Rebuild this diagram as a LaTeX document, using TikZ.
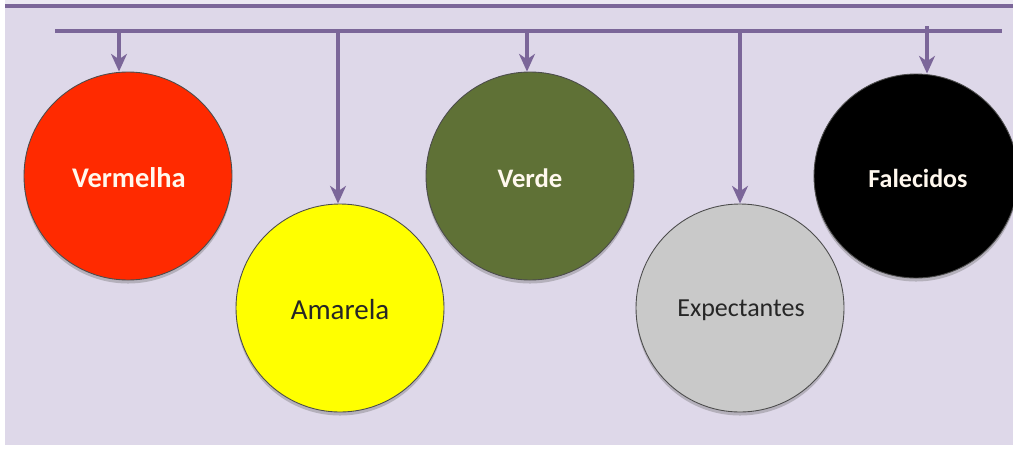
\documentclass[tikz,border=0pt]{standalone}
\usepackage{fontspec}
\setmainfont{Carlito}
\usetikzlibrary{arrows.meta,shadows}
\definecolor{bgpurple}{HTML}{DED8E9}
\definecolor{linepurple}{HTML}{7B6699}
\definecolor{cred}{HTML}{FF2A00}
\definecolor{cyellow}{HTML}{FFFF00}
\definecolor{cgreen}{HTML}{5F7136}
\definecolor{cgrey}{HTML}{C9C9C9}
\definecolor{ctext}{HTML}{FFF8EE}
\begin{document}
\begin{tikzpicture}[x=0.02cm,y=-0.02cm,
  link/.style={draw=linepurple,line width=1.8pt,-{Stealth[length=10pt,width=9pt,inset=3pt]}},
  bar/.style={draw=linepurple,line width=1.8pt},
  ball/.style={circle,minimum size=208*0.02cm,inner sep=0pt,draw=black!70,line width=0.5pt,
    drop shadow={shadow xshift=0pt,shadow yshift=-2pt,opacity=0.35,fill=black!60}}]
  % canvas
  \useasboundingbox (0,0) rectangle (1013,450);
  \fill[white] (0,0) rectangle (1013,450);
  \fill[bgpurple] (5,0) rectangle (1013,445);
  \fill[bgpurple!60!white] (5,0) rectangle (1013,5);
  \draw[linepurple,line width=2.2pt] (5,6) -- (1013,6);

  % hanging bar
  \coordinate (barL) at (55,31);
  \coordinate (barR) at (1002,31);
  \draw[bar] (barL) -- (barR);

  \begin{scope}
    \clip (0,0) rectangle (1013,450);
    \node[ball,fill=cred]    (red)    at (128,176) {};
    \node[ball,fill=cyellow] (yellow) at (340,308) {};
    \node[ball,fill=cgreen]  (green)  at (530,176) {};
    \node[ball,fill=cgrey]   (grey)   at (740,308) {};
    \node[ball,fill=black,minimum size=204*0.02cm] (black) at (916,176) {};
  \end{scope}

  \node[font=\fontsize{16.2}{18}\bfseries\selectfont,text=ctext] (tred) at (129,178) {Vermelha};
  \node[font=\fontsize{16.5}{18}\selectfont,text=black!85] (tyellow) at (340,310) {Amarela};
  \node[font=\bfseries\fontsize{15.2}{18}\selectfont,text=ctext] (tgreen) at (530,178) {Verde};
  \node[font=\fontsize{14.8}{18}\selectfont,text=black!85] (tgrey) at (741,310) {Expectantes};
  \node[font=\bfseries\fontsize{14.8}{18}\selectfont,text=ctext] (tblack) at (918,178) {Falecidos};

  % drop lines
  \coordinate (t1) at (119,31);
  \coordinate (t2) at (338,31);
  \coordinate (t3) at (527,31);
  \coordinate (t4) at (740,31);
  \coordinate (t5) at (927,26);
  \draw[link] (t1) -- (red.north -| t1);
  \draw[link] (t2) -- (yellow.north -| t2);
  \draw[link] (t3) -- (green.north -| t3);
  \draw[link] (t4) -- (grey.north -| t4);
  \draw[link] (t5) -- (black.north -| t5);
\end{tikzpicture}
\end{document}
